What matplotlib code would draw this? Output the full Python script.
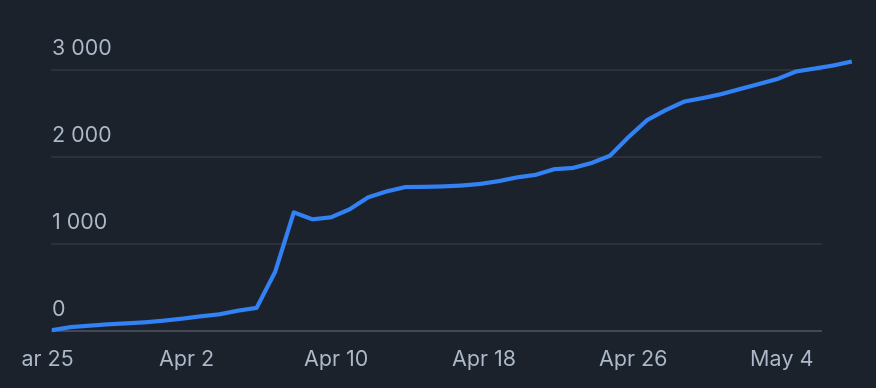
import pandas as pd
import numpy as np
import matplotlib
matplotlib.use("Agg")
import matplotlib.pyplot as plt
import matplotlib.dates as mdates
from matplotlib.transforms import Bbox

# daily cumulative values, Mar 25 .. May 7
start = "2025-03-25 18:00"
values = [
    10, 45, 61, 77, 88, 100, 119, 142, 169, 192,
    234, 266, 682, 1364, 1284, 1307, 1399, 1537, 1605, 1655,
    1657, 1662, 1672, 1690, 1722, 1766, 1795, 1860, 1874, 1931,
    2015, 2230, 2425, 2540, 2638, 2678, 2724, 2782, 2839, 2897,
    2983, 3017, 3052, 3098,
]
dates = pd.date_range(start, periods=len(values), freq="D")

tick_dates = pd.date_range("2025-03-25", "2025-05-04", freq="8D")
y_ticks = [0, 1000, 2000, 3000]

bg = "#1b222c"
text_color = "#adb9c9"
line_color = "#3281f5"

plt.rcParams["font.family"] = ["Inter", "DejaVu Sans"]

fig = plt.figure(figsize=(8.76, 3.88), dpi=100, facecolor=bg)
ax = fig.add_axes([0, 0, 1, 1], facecolor=bg)

px_per_day = 18.6
x0 = mdates.date2num(dates[0])
ax.set_xlim(x0 - 52 / px_per_day, x0 + (876 - 52) / px_per_day)
ax.set_ylim(-655, 3805)

for v in y_ticks:
    ax.axhline(v, xmin=52 / 876, xmax=821 / 876,
               color="#474d59" if v == 0 else "#2c333e", lw=1.3, zorder=1)
    ax.annotate(f"{v:,}".replace(",", " "), xy=(52 / 876, v),
                xycoords=("axes fraction", "data"),
                xytext=(0, 21), textcoords="offset pixels",
                ha="left", va="center", fontsize=15.5, color=text_color)

ax.plot(dates, values, color=line_color, lw=3, zorder=3,
        solid_joinstyle="round", solid_capstyle="butt")

ax.set_xticks(tick_dates)
ax.xaxis.set_major_formatter(mdates.DateFormatter("%b %-d"))
ax.tick_params(axis="x", direction="in", length=0, pad=-27,
               labelsize=15.5, labelcolor=text_color)
ax.set_yticks([])
for s in ax.spines.values():
    s.set_visible(False)

# the left edge of the date labels is cut off in the original
clip = Bbox.from_extents(20, 0, 876, 388)
for lab in ax.get_xticklabels():
    lab.set_clip_on(True)
    lab.set_clip_box(clip)

fig.savefig("out.png", dpi=100, facecolor=bg)
